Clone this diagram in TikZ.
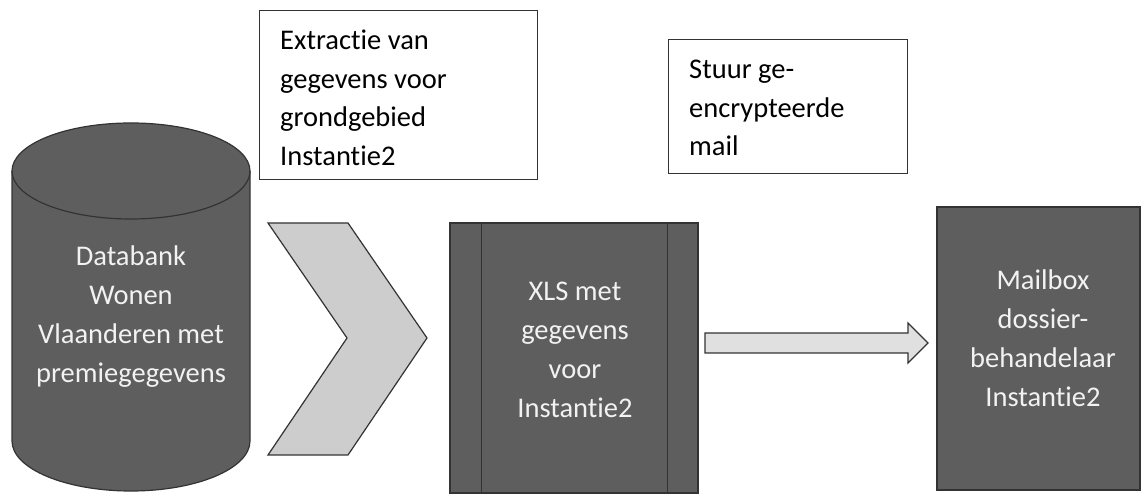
\documentclass[tikz,border=0pt]{standalone}
\usepackage{fontspec}
\setmainfont{Carlito}[Ligatures={NoCommon,NoContextual}]
\definecolor{darkfill}{HTML}{5E5E5E}
\definecolor{darkedge}{HTML}{333333}
\definecolor{chevfill}{HTML}{CDCDCD}
\definecolor{arrfill}{HTML}{E0E0E0}
\definecolor{lighttext}{HTML}{F2F2F2}
\tikzset{
  darkshape/.style={fill=darkfill, draw=darkedge, line width=1.2pt},
  whitetext/.style={text=lighttext, align=center, font=\fontsize{28.5}{39}\selectfont, inner sep=0pt},
  blacktext/.style={text=black, align=left, font=\fontsize{28.5}{38.5}\selectfont, inner sep=0pt},
  labelbox/.style={draw=black!80, line width=1pt, fill=white, inner sep=0pt},
}
\begin{document}
\begin{tikzpicture}[x=1pt,y=1pt]
\useasboundingbox (0,0) rectangle (1145,495);
% cylinder
\path[darkshape] (12,324) arc[start angle=180, end angle=0, x radius=119pt, y radius=48pt]
  -- (250,54) arc[start angle=0, end angle=-180, x radius=119pt, y radius=50pt] -- cycle;
\draw[darkedge, line width=1.2pt] (12,324) arc[start angle=180, end angle=360, x radius=119pt, y radius=48pt];
\node[whitetext] (db) at (131,178) {Databank\\Wonen\\Vlaanderen met\\premiegegevens};
% chevron
\path[fill=chevfill, draw=darkedge, line width=1.2pt] (268,272) -- (348,272) -- (427,157) -- (348,40) -- (268,40) -- (347,157) -- cycle;
% XLS box
\node[darkshape, minimum width=248pt, minimum height=270pt, inner sep=0pt] (xls) at (574,137) {};
\draw[darkedge, line width=1.2pt] ([xshift=32pt]xls.north west) -- ([xshift=32pt]xls.south west);
\draw[darkedge, line width=1.2pt] ([xshift=-31pt]xls.north east) -- ([xshift=-31pt]xls.south east);
\node[whitetext] (xlstext) at (575,145) {XLS met\\gegevens\\voor\\Instantie2};
% mailbox
\node[darkshape, minimum width=203pt, minimum height=283pt, inner sep=0pt] (mail) at (1038.5,146.5) {};
\node[whitetext] (mailtext) at (1043,157) {Mailbox\\dossier-\\behandelaar\\Instantie2};
% block arrow
\coordinate (as) at (705,152);
\path[fill=arrfill, draw=darkedge, line width=1.2pt] (as) ++(0,10) -- ++(203,0) -- ++(0,10) -- (928,152) -- (908,132) -- (908,142) -- (705,142) -- cycle;
% label boxes
\node[labelbox, minimum width=278pt, minimum height=169pt] (lab1) at (398,399.5) {};
\node[blacktext, anchor=west] (lab1text) at (280,397) {Extractie van\\gegevens voor\\grondgebied\\Instantie2};
\node[labelbox, minimum width=239pt, minimum height=134pt] (lab2) at (787.5,388) {};
\node[blacktext, anchor=west] (lab2text) at (689,387) {Stuur ge-\\encrypteerde\\mail};
\end{tikzpicture}
\end{document}
